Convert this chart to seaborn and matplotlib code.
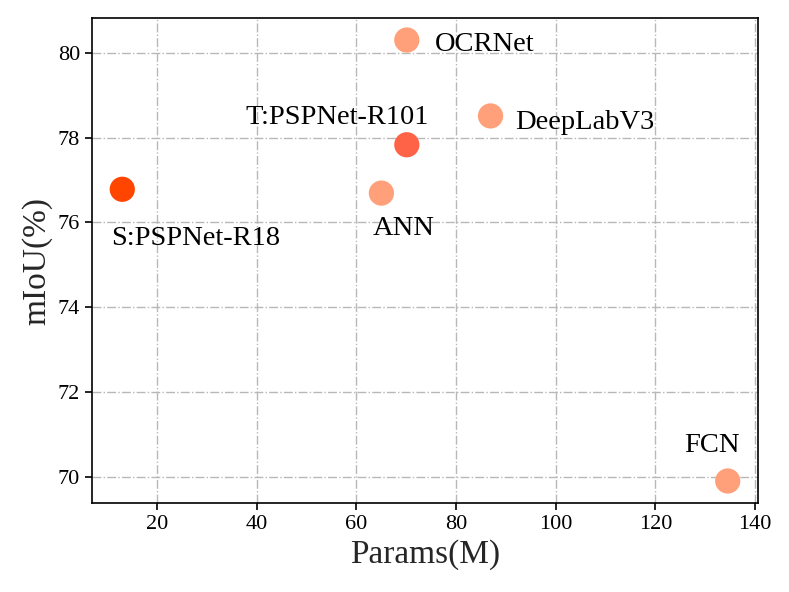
import matplotlib
matplotlib.use("Agg")
import matplotlib.pyplot as plt
import seaborn as sns
import pandas as pd

models = ["S:PSPNet-R18", "T:PSPNet-R101", "ANN", "OCRNet", "DeepLabV3", "FCN"]
params = [13.0, 70.1, 65.0, 70.1, 86.9, 134.5]
miou = [76.78, 77.83, 76.69, 80.30, 78.51, 69.90]
colors = ["#FF4500", "#FF6347", "#FFA07A", "#FFA07A", "#FFA07A", "#FFA07A"]
# label anchor positions in data units (left x, baseline y)
label_x = [10.7, 37.8, 63.3, 75.8, 91.9, 125.8]
label_y = [75.46, 78.33, 75.69, 80.03, 78.21, 70.59]

sns.set_style("ticks")
plt.rcParams["font.family"] = ["Liberation Serif", "DejaVu Serif"]
plt.rcParams["mathtext.fontset"] = "stix"

df = pd.DataFrame({"model": models, "params": params, "miou": miou})

fig = plt.figure(figsize=(7.89, 5.92), dpi=100)
ax = fig.add_axes([0.1166, 0.1503, 0.8441, 0.8193])

sns.scatterplot(data=df, x="params", y="miou", hue="model",
                palette=dict(zip(models, colors)), s=330, linewidth=0,
                legend=False, ax=ax, zorder=3)

for m, lx, ly in zip(models, label_x, label_y):
    ax.text(lx, ly, m, fontsize=20.5, ha="left", va="baseline", color="black")

ax.grid(True, linestyle="-.", color="#b8b8b8", linewidth=1.0, zorder=0)
ax.set_axisbelow(True)
for sp in ax.spines.values():
    sp.set_visible(True)
    sp.set_color("black")
    sp.set_linewidth(1.2)
ax.tick_params(axis="both", labelsize=16, direction="out", length=5, width=1.2,
               colors="black")
ax.set_xticks([20, 40, 60, 80, 100, 120, 140])
ax.set_yticks([70, 72, 74, 76, 78, 80])
ax.set_xlabel("Params(M)", fontsize=24)
ax.set_ylabel("mIoU(%)", fontsize=24)
ax.margins(0.05)

fig.savefig("out.png", dpi=100)
